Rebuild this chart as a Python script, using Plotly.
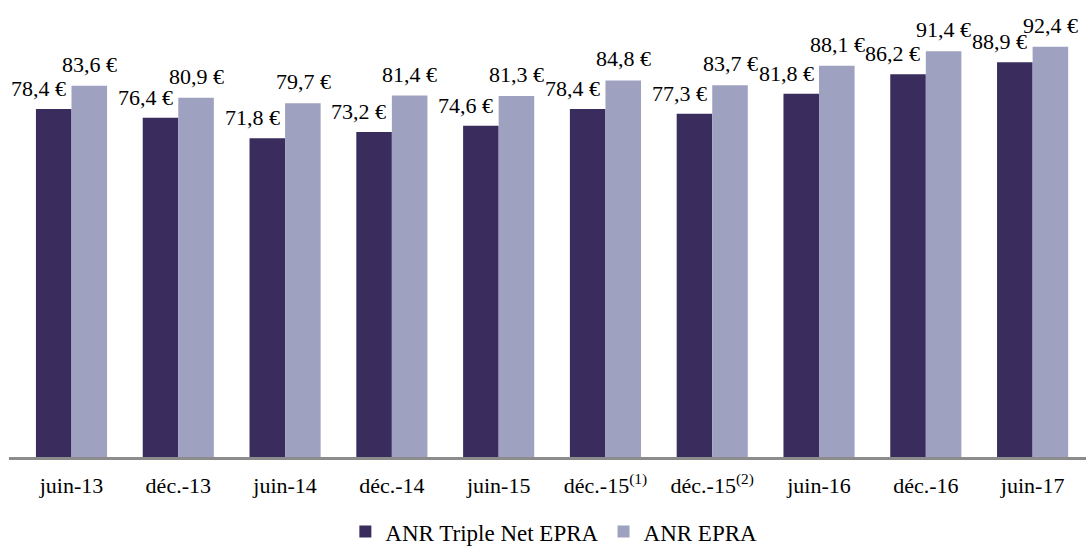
import plotly.graph_objects as go

categories = ["juin-13", "déc.-13", "juin-14", "déc.-14", "juin-15",
              "déc.-15<sup>(1)</sup>", "déc.-15<sup>(2)</sup>", "juin-16", "déc.-16", "juin-17"]
anr_triple_net = [78.4, 76.4, 71.8, 73.2, 74.6, 78.4, 77.3, 81.8, 86.2, 88.9]
anr_epra = [83.6, 80.9, 79.7, 81.4, 81.3, 84.8, 83.7, 88.1, 91.4, 92.4]

DARK = "#3A2D5E"
LIGHT = "#9EA2C0"
FONT = "Liberation Serif"

def fmt(v):
    return f"{v:.1f}".replace(".", ",") + " €"

fig = go.Figure()
fig.add_trace(go.Bar(name="ANR Triple Net EPRA", x=categories, y=anr_triple_net,
                     marker=dict(color=DARK, line=dict(width=0))))
fig.add_trace(go.Bar(name="ANR EPRA", x=categories, y=anr_epra,
                     marker=dict(color=LIGHT, line=dict(width=0))))

annotations = []
for c, v in zip(categories, anr_triple_net):
    annotations.append(dict(x=c, y=v, xref="x", yref="y", text=fmt(v), showarrow=False,
                            xshift=-33, yshift=6, yanchor="bottom",
                            font=dict(family=FONT, size=22, color="#000")))
for c, v in zip(categories, anr_epra):
    annotations.append(dict(x=c, y=v, xref="x", yref="y", text=fmt(v), showarrow=False,
                            xshift=18, yshift=7, yanchor="bottom",
                            font=dict(family=FONT, size=22, color="#000")))

fig.update_layout(
    width=1086, height=546,
    margin=dict(l=9, r=0, t=13, b=89, autoexpand=False),
    paper_bgcolor="white", plot_bgcolor="white",
    barmode="group", bargap=0.334, bargroupgap=0,
    font=dict(family=FONT, size=22, color="#000"),
    showlegend=True,
    legend=dict(orientation="h", x=0.51, xanchor="center", xref="container",
                y=-0.168, yanchor="middle", yref="paper",
                font=dict(family=FONT, size=23, color="#000"),
                itemwidth=30, traceorder="normal", tracegroupgap=0),
    annotations=annotations,
    xaxis=dict(showline=True, linecolor="#8C8C8C", linewidth=2.5, ticks="",
               tickfont=dict(family=FONT, size=22, color="#000"),
               ticklabelstandoff=7, showgrid=False, automargin=False),
    yaxis=dict(range=[0, 100], visible=False, showgrid=False, zeroline=False,
               automargin=False),
)

fig.write_html("out.html", config={"displayModeBar": False},
               post_script="document.body.style.margin='0';")
